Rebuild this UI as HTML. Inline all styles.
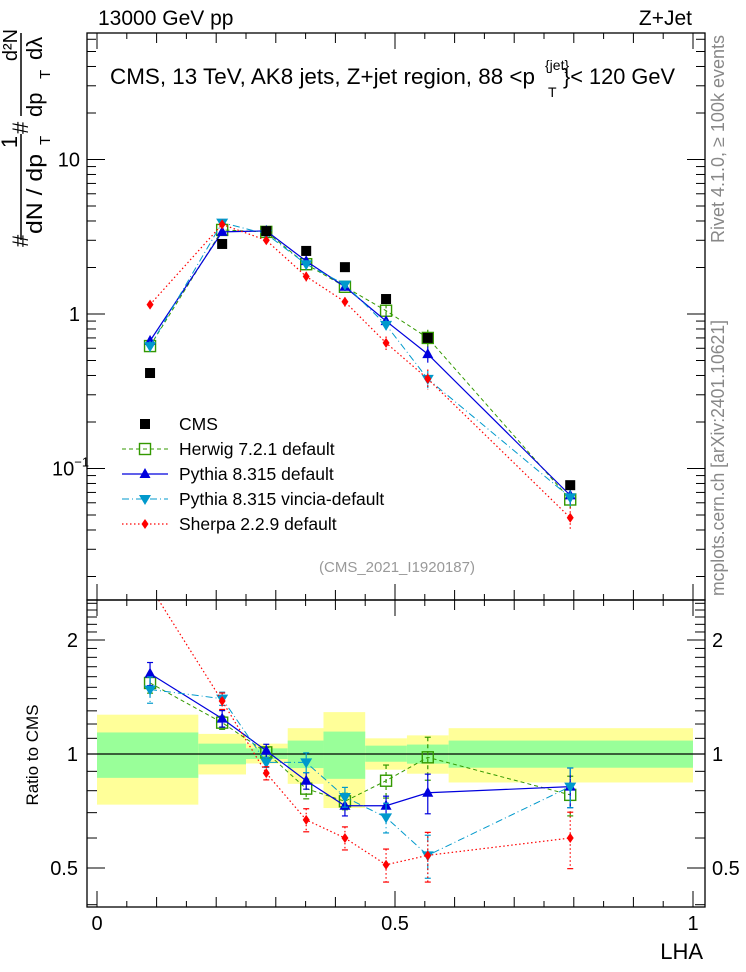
<!DOCTYPE html>
<html><head><meta charset="utf-8"><style>
html,body{margin:0;padding:0;background:#fff}
svg{display:block;font-family:"Liberation Sans",sans-serif}
</style></head><body>
<svg id="c" width="746" height="972" viewBox="0 0 746 972" xmlns="http://www.w3.org/2000/svg">
<g id="bands"></g>
<g id="grid"></g>
<g id="series"></g>
<g id="frame" fill="none" stroke="#000" stroke-width="1.3">
 <rect x="87" y="33" width="618" height="567"/>
 <rect x="87" y="600" width="618" height="307"/>
</g>
<g id="ticks" stroke="#000" stroke-width="1"></g>
<g id="labels" font-size="20" fill="#000"></g>
<text x="98" y="25" font-size="21">13000 GeV pp</text>
<text x="692" y="25" font-size="21" text-anchor="end">Z+Jet</text>
<g font-size="22">
 <text x="110" y="84" textLength="425" lengthAdjust="spacingAndGlyphs">CMS, 13 TeV, AK8 jets, Z+jet region, 88 &lt;p</text>
 <text x="545" y="70" font-size="14">{jet}</text>
 <text x="548" y="97" font-size="14">T</text>
 <text x="563" y="84" textLength="112" lengthAdjust="spacingAndGlyphs">}&lt; 120 GeV</text>
</g>
<text x="397" y="572" font-size="15" fill="#999" text-anchor="middle">(CMS_2021_I1920187)</text>
<text transform="translate(724,243) rotate(-90)" font-size="18" fill="#888" textLength="208" lengthAdjust="spacingAndGlyphs">Rivet 4.1.0, ≥ 100k events</text>
<text transform="translate(724,596) rotate(-90)" font-size="18" fill="#888" textLength="276" lengthAdjust="spacingAndGlyphs">mcplots.cern.ch [arXiv:2401.10621]</text>
<text transform="translate(38,755) rotate(-90)" font-size="17" text-anchor="middle">Ratio to CMS</text>
<text x="703" y="959" font-size="22" text-anchor="end">LHA</text>
<g font-size="22">
 <text transform="translate(28,247) rotate(-90)" font-size="22">#</text>
 <text transform="translate(17,142) rotate(-90)" text-anchor="middle">1</text>
 <line x1="21" y1="240" x2="21" y2="134" stroke="#000" stroke-width="1.5"/>
 <text transform="translate(42,234) rotate(-90)" textLength="80" lengthAdjust="spacingAndGlyphs">dN / dp</text>
 <text transform="translate(50,145) rotate(-90)" font-size="15">T</text>
 <text transform="translate(28,134) rotate(-90)" font-size="22">#</text>
 <text transform="translate(17,45) rotate(-90)" text-anchor="middle" font-size="20">d²N</text>
 <line x1="21" y1="116" x2="21" y2="33" stroke="#000" stroke-width="1.5"/>
 <text transform="translate(42,117) rotate(-90)">dp</text>
 <text transform="translate(50,79) rotate(-90)" font-size="15">T</text>
 <text transform="translate(42,60) rotate(-90)">dλ</text>
</g>
<g id="legend" font-size="17.5"></g>
</svg>
<script>
const categories=["b1","b2","b3","b4","b5","b6","b7","b8"];
const xvals=[0.089,0.21,0.284,0.351,0.416,0.485,0.555,0.794];
const binEdges=[0,0.17,0.25,0.32,0.38,0.45,0.52,0.59,1.0];
const cmsVals=[0.415,2.84,3.44,2.56,2.01,1.25,0.70,0.078];
const herwigVals=[0.62,3.5,3.4,2.1,1.5,1.05,0.70,0.063];
const pythiaVals=[0.67,3.4,3.45,2.2,1.5,0.90,0.55,0.067];
const vinciaVals=[0.62,3.9,3.3,2.1,1.55,0.85,0.38,0.065];
const sherpaVals=[1.15,3.8,3.0,1.75,1.2,0.65,0.38,0.048];
const herwigRatio=[1.54,1.21,1.01,0.81,0.75,0.85,0.98,0.78];
const pythiaRatio=[1.63,1.24,1.02,0.85,0.73,0.73,0.79,0.82];
const vinciaRatio=[1.48,1.40,0.95,0.95,0.77,0.68,0.54,0.82];
const sherpaRatio=[2.77,1.38,0.89,0.67,0.60,0.51,0.54,0.60];
const herwigErr=[0.06,0.04,0.03,0.06,0.05,0.10,0.13,0.12];
const pythiaErr=[0.07,0.05,0.04,0.05,0.06,0.06,0.12,0.12];
const vinciaErr=[0.08,0.04,0.03,0.06,0.06,0.09,0.13,0.12];
const sherpaErr=[0.05,0.05,0.04,0.07,0.07,0.10,0.15,0.17];
const bandOuterHi=[1.27,1.13,1.065,1.17,1.29,1.10,1.12,1.17];
const bandOuterLo=[0.735,0.883,0.944,0.834,0.72,0.909,0.887,0.841];
const bandInnerHi=[1.14,1.065,1.035,1.085,1.146,1.052,1.059,1.085];
const bandInnerLo=[0.865,0.939,0.97,0.918,0.86,0.954,0.943,0.92];

const NS="http://www.w3.org/2000/svg";
function X(v){return 97+596*v;}
function YM(v){return 314-154.5*Math.log10(v);}
function YR(r){return 754-378.7*Math.log10(r);}
function mk(tag,attrs,parent){const e=document.createElementNS(NS,tag);for(const k in attrs)e.setAttribute(k,attrs[k]);parent.appendChild(e);return e;}
const bands=document.getElementById('bands');
for(let i=0;i<categories.length;i++){
 const x0=Math.max(X(binEdges[i]),88),x1=X(binEdges[i+1]);
 const o=mk('rect',{x:x0,y:YR(bandOuterHi[i]),width:x1-x0,height:YR(bandOuterLo[i])-YR(bandOuterHi[i]),fill:'#ffff99'},bands);
 
 
 const n=mk('rect',{x:x0,y:YR(bandInnerHi[i]),width:x1-x0,height:YR(bandInnerLo[i])-YR(bandInnerHi[i]),fill:'#99ff99'},bands);
 
 
}
const unity=mk('line',{x1:87,x2:705,y1:YR(1),y2:YR(1),stroke:'#000','stroke-width':1.2},bands);



const tk=document.getElementById('ticks'),lb=document.getElementById('labels');
for(let k=0;k<=20;k++){const v=k*0.05,x=X(v);const L=(k%10==0)?16:(k%2==0?10:6);
 mk('line',{x1:x,x2:x,y1:33,y2:33+L},tk);mk('line',{x1:x,x2:x,y1:600,y2:600-L},tk);
 mk('line',{x1:x,x2:x,y1:600,y2:600+L},tk);mk('line',{x1:x,x2:x,y1:907,y2:907-L},tk);}
const xl=[["0",0],["0.5",0.5],["1",1]];
xl.forEach(a=>{const t=mk('text',{x:X(a[1]),y:930,'text-anchor':'middle'},lb);t.textContent=a[0];
 
 });
for(let d=-2;d<=1;d++){for(let m=1;m<=9;m++){const v=m*Math.pow(10,d),y=YM(v);if(y<34||y>599)continue;
 const L=m==1?18:9;mk('line',{x1:87,x2:87+L,y1:y,y2:y},tk);mk('line',{x1:705,x2:705-L,y1:y,y2:y},tk);}}
[["10",10],["1",1]].forEach(a=>{const t=mk('text',{x:80,y:YM(a[1])+7,'text-anchor':'end'},lb);t.textContent=a[0];
 
 });
const tm=mk('text',{x:52,y:YM(0.1)+7},lb);tm.innerHTML='10<tspan font-size="13" dy="-9">−1</tspan>';


const rt=[0.4,0.5,0.6,0.7,0.8,0.9,1,1.1,1.2,1.3,1.4,1.5,1.6,1.7,1.8,1.9,2,2.1,2.2,2.3,2.4,2.5];
rt.forEach(v=>{const y=YR(v);if(y<601||y>906)return;const L=(v==0.5||v==1||v==2)?18:10;
 mk('line',{x1:87,x2:87+L,y1:y,y2:y},tk);mk('line',{x1:705,x2:705-L,y1:y,y2:y},tk);});
[["2",2],["1",1],["0.5",0.5]].forEach(a=>{
 const t=mk('text',{x:78,y:YR(a[1])+7,'text-anchor':'end'},lb);t.textContent=a[0];
 
 
 const t2=mk('text',{x:712,y:YR(a[1])+7},lb);t2.textContent=a[0];
 
 });

const ser=document.getElementById('series');
const defs=[
 {n:'herwig',c:'#339900',d:'4,3',m:'sq',v:herwigVals,r:herwigRatio,e:herwigErr,w:1},
 {n:'pythia',c:'#0000dd',d:'',m:'tu',v:pythiaVals,r:pythiaRatio,e:pythiaErr,w:1.2},
 {n:'vincia',c:'#0099cc',d:'7,3,1,3',m:'td',v:vinciaVals,r:vinciaRatio,e:vinciaErr,w:1},
 {n:'sherpa',c:'#ff0000',d:'1.5,2.5',m:'di',v:sherpaVals,r:sherpaRatio,e:sherpaErr,w:1.2}];
function marker(g,type,x,y,c){
 if(type=='sq')return mk('rect',{x:x-5.5,y:y-5.5,width:11,height:11,fill:'none',stroke:c,'stroke-width':1.4},g);
 if(type=='tu')return mk('polygon',{points:`${x},${y-6} ${x-5.5},${y+4} ${x+5.5},${y+4}`,fill:c},g);
 if(type=='td')return mk('polygon',{points:`${x},${y+6} ${x-6},${y-4} ${x+6},${y-4}`,fill:c},g);
 if(type=='di')return mk('polygon',{points:`${x},${y-5} ${x-3.5},${y} ${x},${y+5} ${x+3.5},${y}`,fill:c},g);
}
const clip=mk('clipPath',{id:'rc'},document.getElementById('c'));mk('rect',{x:87,y:600,width:618,height:307},clip);
const clipm=mk('clipPath',{id:'mc'},document.getElementById('c'));mk('rect',{x:87,y:33,width:618,height:567},clipm);
defs.forEach(s=>{
 const g=mk('g',{},ser);
 
 
 const gm=mk('g',{'clip-path':'url(#mc)'},g),gr=mk('g',{'clip-path':'url(#rc)'},g);
 const pm=xvals.map((x,i)=>X(x)+','+YM(s.v[i])).join(' ');
 const pr=xvals.map((x,i)=>X(x)+','+YR(s.r[i])).join(' ');
 const la={fill:'none',stroke:s.c,'stroke-width':s.w};if(s.d)la['stroke-dasharray']=s.d;
 mk('polyline',Object.assign({points:pm},la),gm);
 mk('polyline',Object.assign({points:pr},la),gr);
 xvals.forEach((xv,i)=>{const x=X(xv);
  const ea={stroke:s.c,'stroke-width':1.2};if(s.d)ea['stroke-dasharray']=s.d;
  mk('line',Object.assign({x1:x,x2:x,y1:YM(s.v[i]*(1+s.e[i])),y2:YM(s.v[i]*(1-s.e[i]))},ea),gm);
  mk('line',Object.assign({x1:x,x2:x,y1:YR(s.r[i]*(1+s.e[i])),y2:YR(s.r[i]*(1-s.e[i]))},ea),gr);
  [YR(s.r[i]*(1+s.e[i])),YR(s.r[i]*(1-s.e[i]))].forEach(y=>mk('line',{x1:x-3,x2:x+3,y1:y,y2:y,stroke:s.c,'stroke-width':1.2},gr));
  const a=marker(gm,s.m,x,YM(s.v[i]),s.c);
  
  
  const b=marker(gr,s.m,x,YR(s.r[i]),s.c);
  
  
 });
});
const gc=mk('g',{},ser);


xvals.forEach((xv,i)=>{const r=mk('rect',{x:X(xv)-5,y:YM(cmsVals[i])-5,width:10,height:10,fill:'#000'},gc);
 
 });

const lg=document.getElementById('legend');
const ln=[["CMS"],["Herwig 7.2.1 default"],["Pythia 8.315 default"],["Pythia 8.315 vincia-default"],["Sherpa 2.2.9 default"]];
ln.forEach((t,i)=>{const y=424+25*i;
 const g=mk('g',{},lg);
 
 
 if(i==0){mk('rect',{x:140,y:y-5,width:10,height:10,fill:'#000'},g);}
 else{const s=defs[i-1];const la={x1:122,x2:168,y1:y,y2:y,stroke:s.c,'stroke-width':s.w};if(s.d)la['stroke-dasharray']=s.d;
  mk('line',la,g);marker(g,s.m,145,y,s.c);}
 const tx=mk('text',{x:179,y:y+6},g);tx.textContent=t[0];});
</script>
</body></html>
